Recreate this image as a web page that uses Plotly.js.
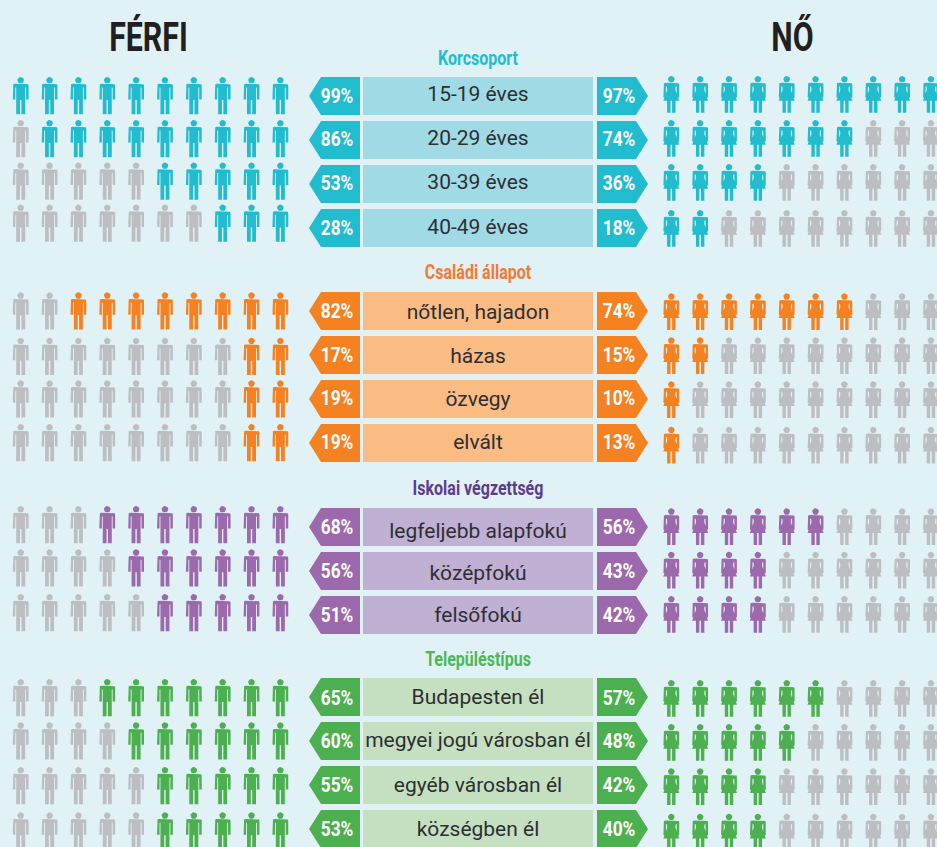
<!DOCTYPE html>
<html><head><meta charset="utf-8">
<script src="https://cdn.plot.ly/plotly-3.0.1.min.js"></script>
<style>html,body{margin:0;padding:0;background:#E0F2F5}</style></head>
<body><div id="chart" style="width:937px;height:847px"></div>
<script>
// ---- data
const groups = ["Korcsoport","Családi állapot","Iskolai végzettség","Településtípus"];
const groupOfRow = [0,0,0,0,1,1,1,1,2,2,2,3,3,3,3];
const categories = ["15-19 éves","20-29 éves","30-39 éves","40-49 éves","nőtlen, hajadon","házas","özvegy","elvált","legfeljebb alapfokú","középfokú","felsőfokú","Budapesten él","megyei jogú városban él","egyéb városban él","községben él"];
const malePct   = [99,86,53,28,82,17,19,19,68,56,51,65,60,55,53];
const femalePct = [97,74,36,18,74,15,10,13,56,43,42,57,48,42,40];
const maleIcons   = [10,9,5,3,8,2,2,2,7,6,5,7,6,5,5];
const femaleIcons = [10,7,4,2,7,2,1,1,6,4,4,6,5,4,4];
// ---- layout and style
const C = {bg:"#E0F2F5",grey:"#BDBEC2",text:"#2E2F33"};
const dark  = ["#22BCCF","#F58220","#9C69AC","#4CAF50"];
const light = ["#A0DAE4","#FBBC83","#C0B0D4","#C4E0C0"];
const head  = ["#22BCCF","#F37B36","#5F3B8C","#4CB85A"];
const barTop = [77,121,165,209,292,336,380,424,508,552,596,678,722,766,810];
const catY = [95.5,139.5,183.5,228.5,313.5,357.5,400.5,443.5,532.5,574.5,616.5,698.5,741.5,786.5,830.5];
const pctY = [97.5,140.5,184.5,229.5,312.5,356.5,399.5,443.5,528.5,572.5,616.5,699.5,742.5,786.5,830.5];
const maleTop = [77,120,162.5,204.5,292.3,337.7,380.3,424,506,549.3,594,679,722.3,767,812.3];
const femaleTop = [76,120,164,210,293.3,337.3,381.3,426.7,508.3,551.7,596,680,724,768.3,813.7];
const groupY = [60,274,490,661];
const ICONS = 10, X0M = 20.7, X0F = 671.3, STEP = 28.85, BAR_H = 38;
const MALE = [[-6,6.7],[6,6.7],[7.4,7.3],[7.9,8.5],[7.9,22.5],[5.4,22.5],[5.4,10.5],[4.5,10.5],[4.5,37.3],[0.7,37.3],[0.7,23],[-0.7,23],[-0.7,37.3],[-4.5,37.3],[-4.5,10.5],[-5.4,10.5],[-5.4,22.5],[-7.9,22.5],[-7.9,8.5],[-7.4,7.3]];
const FEMALE = [[-5.5,6.7],[5.5,6.7],[7.4,7.3],[7.9,8.5],[7.9,21.5],[5.4,21.5],[5.4,10.5],[4.4,10.5],[4.1,14],[8,24.7],[4.2,24.7],[4.2,36.7],[0.8,36.7],[0.8,24.7],[-0.8,24.7],[-0.8,36.7],[-4.2,36.7],[-4.2,24.7],[-8,24.7],[-4.1,14],[-4.4,10.5],[-5.4,10.5],[-5.4,21.5],[-7.9,21.5],[-7.9,8.5],[-7.4,7.3]];
const HEAD = [];
for (let i=0;i<16;i++){const a=i/16*2*Math.PI;HEAD.push([3.3*Math.cos(a),3.3+3.3*Math.sin(a)]);}

const buckets = {};
function add(color,pts,dx,dy){
  const b = buckets[color] || (buckets[color]={x:[],y:[]});
  pts.forEach(p=>{b.x.push(p[0]+dx);b.y.push(p[1]+dy);});
  b.x.push(pts[0][0]+dx,null);b.y.push(pts[0][1]+dy,null);
}
categories.forEach((c,r)=>{
  const g = groupOfRow[r];
  for(let i=0;i<ICONS;i++){
    // men fill from the right, women from the left
    const mc = i>=ICONS-maleIcons[r] ? dark[g] : C.grey;
    const fc = i<femaleIcons[r] ? dark[g] : C.grey;
    add(mc,MALE,X0M+i*STEP,maleTop[r]); add(mc,HEAD,X0M+i*STEP,maleTop[r]);
    add(fc,FEMALE,X0F+i*STEP,femaleTop[r]); add(fc,HEAD,X0F+i*STEP,femaleTop[r]);
  }
  const t = barTop[r], h = BAR_H;
  add(dark[g],[[360,t],[360,t+h],[321,t+h],[309,t+h/2],[321,t]],0,0);
  add(light[g],[[363,t],[593,t],[593,t+h],[363,t+h]],0,0);
  add(dark[g],[[597,t],[636,t],[648,t+h/2],[636,t+h],[597,t+h]],0,0);
});
const traces = Object.keys(buckets).map(col=>({
  type:"scatter",mode:"lines",x:buckets[col].x,y:buckets[col].y,fill:"toself",fillcolor:col,
  line:{width:0,color:col},hoverinfo:"skip",showlegend:false,connectgaps:false}));
const FONT = "Roboto, sans-serif";
const textTrace = (x,y,text,size,color,weight)=>({type:"scatter",mode:"text",x,y,text,
  textfont:{family:FONT,size,color,weight},textposition:"middle center",hoverinfo:"skip",showlegend:false});
traces.push(textTrace(categories.map(()=>478),catY,categories,21,C.text,400));
traces.push(textTrace(malePct.map(()=>337),pctY,malePct.map(v=>v+"%"),20.5,"#fff",700));
traces.push(textTrace(femalePct.map(()=>619),pctY,femalePct.map(v=>v+"%"),20.5,"#fff",700));
groups.forEach((g,i)=>traces.push(textTrace([478],[groupY[i]],[g],20,head[i],700)));
[["FÉRFI",148.5],["NŐ",792.5]].forEach(p=>traces.push(textTrace([p[1]],[40.5],[p[0]],41,"#231F20",700)));

// no condensed face is installed: squeeze the real text horizontally per font size
const squeeze = {"21px":1.0,"20.5px":0.84,"20px":0.8,"41px":0.74};
Plotly.newPlot("chart",traces,{
  width:937,height:847,margin:{l:0,r:0,t:0,b:0},paper_bgcolor:C.bg,plot_bgcolor:C.bg,showlegend:false,
  xaxis:{range:[0,937],visible:false,fixedrange:true},
  yaxis:{range:[847,0],visible:false,fixedrange:true}
},{displayModeBar:false,staticPlot:true}).then(()=>{
  document.querySelectorAll("#chart .textpoint text").forEach(t=>{
    const k = squeeze[t.style.fontSize];
    if(!k) return;
    t.setAttribute("textLength",(t.getComputedTextLength()*k).toFixed(1));
    t.setAttribute("lengthAdjust","spacingAndGlyphs");
  });
});
</script></body></html>
